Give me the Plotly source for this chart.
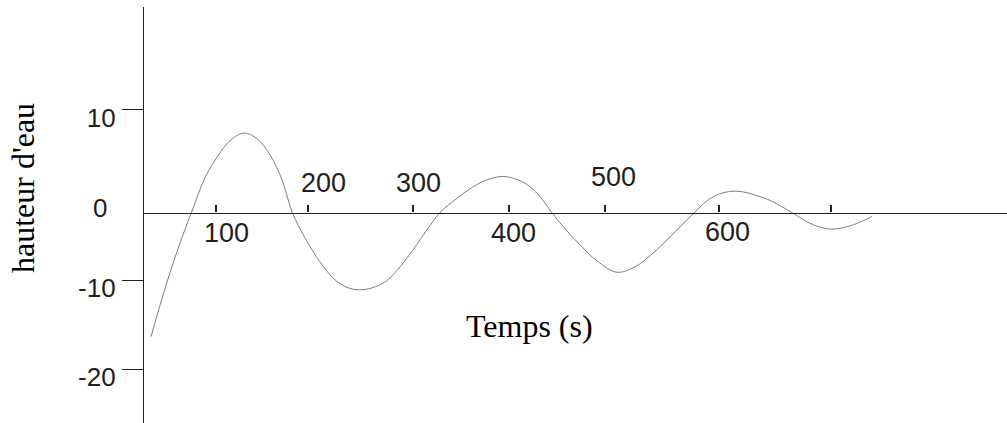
import plotly.graph_objects as go

# ---- data ----
temps = [35.26, 50.90, 64.14, 75.60, 89.04, 101.99, 114.94, 128.19, 140.84, 153.78,
         165.74, 176.00, 188.65, 203.59, 218.53, 230.48, 242.43, 255.38, 270.02,
         283.27, 296.22, 310.16, 323.11, 338.05, 352.99, 369.62, 385.86, 400.80,
         412.75, 423.71, 434.36, 447.61, 462.55, 479.48, 499.10, 517.33, 532.27,
         547.21, 562.15, 576.39, 595.32, 616.93, 641.83, 656.77, 673.41, 694.92,
         713.25, 734.76, 753.09]
hauteur = [-12.04, -6.85, -2.97, 0.0, 3.37, 5.50, 7.06, 7.71, 7.16, 5.60,
           3.17, 0.0, -2.46, -4.79, -6.53, -7.26, -7.50, -7.31, -6.63,
           -5.27, -3.62, -1.68, 0.0, 1.23, 2.30, 3.17, 3.50, 3.17,
           2.50, 1.43, 0.0, -1.58, -3.14, -4.69, -5.79, -5.27, -4.20,
           -2.84, -1.39, 0.0, 1.55, 2.08, 1.55, 0.94, 0.0, -1.19,
           -1.61, -1.19, -0.39]

x_tick_vals = [100, 191.3, 296.5, 391.8, 487.4, 600.8, 712.3]
x_tick_labels = ["100", "200", "300", "400", "500", "600"]
y_tick_vals = [10, -6.56, -15.2]
y_tick_labels = ["10", "-10", "-20"]
zero_label = "0"
x_title = "Temps (s)"
y_title = "hauteur d'eau"

# ---- layout geometry ----
W, H = 1007, 423
L, R, T, B = 144, 0, 7, 0
x_range = [28.3, 887.8]
y_range = [-20.42, 19.94]

def paper_x(px):
    return (px - L) / (W - L - R)

def paper_y(py):
    return (H - B - py) / (H - T - B)

sans = "Liberation Sans, Arial, sans-serif"
serif = "Liberation Serif, Times New Roman, serif"
ink = "#231f20"

fig = go.Figure()
fig.add_trace(go.Scatter(x=temps, y=hauteur, mode="lines",
                         line=dict(color="#808080", width=1, shape="spline", smoothing=1.0),
                         hoverinfo="skip", showlegend=False))

x_axis_pos = (0 - y_range[0]) / (y_range[1] - y_range[0])

fig.update_layout(
    width=W, height=H,
    margin=dict(l=L, r=R, t=T, b=B, pad=0),
    paper_bgcolor="white", plot_bgcolor="white",
    showlegend=False,
    xaxis=dict(range=x_range, showgrid=False, zeroline=False,
               showline=True, linecolor=ink, linewidth=1.4,
               anchor="free", position=x_axis_pos,
               ticks="inside", tickvals=x_tick_vals, ticklen=7, tickwidth=2,
               tickcolor=ink, showticklabels=False),
    yaxis=dict(range=y_range, showgrid=False, zeroline=False,
               showline=True, linecolor=ink, linewidth=1.4,
               ticks="outside", tickvals=y_tick_vals, ticktext=y_tick_labels,
               ticklen=21, tickwidth=1.3, tickcolor=ink,
               tickfont=dict(family=sans, size=26, color=ink),
               ticklabelshift=8, ticklabelstandoff=1),
)

# x tick labels, alternately above and below the axis (offsets in pixels)
label_dx = [11, 15.5, 5, 5, 8.5, 9]
label_dy = [-20, 30, 30, -20, 36, -19]
for val, txt, dx, dy in zip(x_tick_vals, x_tick_labels, label_dx, label_dy):
    fig.add_annotation(x=val, y=0, xref="x", yref="y", text=txt, showarrow=False,
                       xanchor="center", yanchor="middle",
                       xshift=dx, yshift=dy,
                       font=dict(family=sans, size=27, color=ink))

# "0" label on the y axis (no tick mark there)
fig.add_annotation(x=paper_x(100), y=0, xref="paper", yref="y", text=zero_label,
                   showarrow=False, xanchor="center", yanchor="middle", yshift=5,
                   font=dict(family=sans, size=26, color=ink))

# axis titles
fig.add_annotation(x=paper_x(529), y=paper_y(326), xref="paper", yref="paper",
                   text=x_title, showarrow=False, xanchor="center", yanchor="middle",
                   font=dict(family=serif, size=32, color="black"))
fig.add_annotation(x=paper_x(23), y=paper_y(188), xref="paper", yref="paper",
                   text=y_title, showarrow=False, textangle=-90,
                   xanchor="center", yanchor="middle",
                   font=dict(family=serif, size=32, color="black"))

fig.write_html("out.html", config={"displayModeBar": False},
               post_script="document.body.style.margin='0';document.body.style.overflow='hidden';")
